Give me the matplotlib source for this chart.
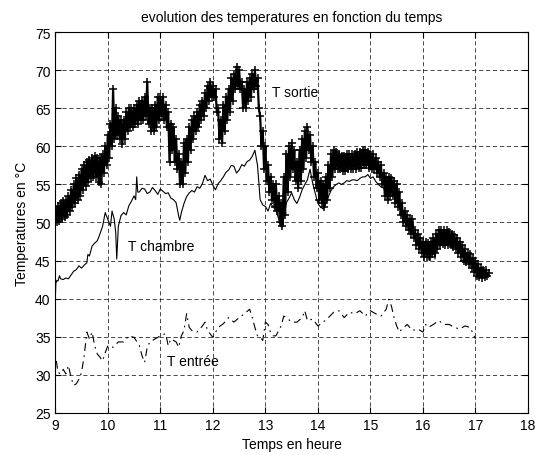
import numpy as np
import matplotlib
matplotlib.use('Agg')
import matplotlib.pyplot as plt

plt.rcParams['font.family'] = ['Liberation Sans', 'DejaVu Sans']
plt.rcParams['font.size'] = 10

# T sortie, one reading every 0.025 h from 9h00 (one row = one hour)
sortie_t0 = 9.0
sortie_dt = 0.025
T_sortie = [
    52.0, 50.0, 52.2, 50.2, 52.5, 50.5, 52.8, 50.7, 53.0, 51.0,
    53.5, 51.5, 54.3, 52.0, 55.0, 52.5, 55.8, 53.0, 56.3, 53.5,
    57.0, 54.3, 57.5, 54.8, 58.0, 55.3, 58.2, 55.8, 58.5, 56.0,
    58.7, 56.0, 58.5, 55.3, 58.5, 55.0, 59.0, 56.5, 60.0, 57.5,

    61.5, 58.5, 63.0, 60.0, 67.5, 61.0, 65.0, 61.5, 64.0, 61.0,
    63.5, 60.3, 63.5, 61.0, 64.5, 62.0, 65.0, 62.5, 65.0, 62.5,
    65.0, 63.0, 65.5, 63.0, 66.0, 63.5, 66.0, 63.5, 66.5, 64.0,
    68.5, 63.0, 65.0, 62.0, 65.0, 62.0, 65.5, 62.5, 66.5, 63.5,

    66.5, 64.0, 66.5, 63.5, 65.5, 62.5, 64.5, 58.0, 63.0, 59.5,
    62.5, 58.0, 61.0, 57.0, 59.0, 55.0, 58.0, 55.0, 60.5, 56.5,
    61.0, 58.0, 62.5, 59.5, 63.5, 61.0, 64.0, 62.0, 64.5, 62.5,
    65.5, 63.5, 66.0, 64.0, 67.0, 65.0, 68.0, 66.0, 68.5, 66.5,

    68.0, 66.5, 67.5, 64.5, 65.0, 61.0, 63.5, 60.5, 65.5, 62.0,
    66.5, 63.5, 67.5, 64.5, 69.0, 66.0, 69.5, 67.5, 70.5, 68.0,
    70.0, 67.5, 68.5, 65.0, 67.5, 65.0, 68.5, 66.0, 69.0, 66.5,
    69.5, 67.5, 70.0, 68.0, 69.0, 65.0, 64.0, 60.0, 62.0, 57.0,

    60.0, 55.5, 57.5, 54.0, 56.0, 53.0, 55.0, 52.0, 55.0, 51.5,
    53.5, 50.0, 52.5, 49.5, 56.0, 51.0, 59.0, 54.0, 60.0, 56.0,
    60.5, 57.0, 59.5, 55.5, 58.0, 54.5, 59.5, 55.5, 61.0, 57.0,
    62.0, 58.5, 62.5, 59.5, 61.5, 58.0, 60.0, 56.0, 58.0, 54.5,

    56.5, 53.0, 55.5, 52.5, 55.0, 52.0, 56.0, 53.0, 57.5, 54.5,
    59.0, 56.0, 59.5, 57.0, 59.3, 57.0, 59.0, 57.0, 58.8, 56.8,
    58.8, 56.8, 59.0, 57.0, 59.0, 57.0, 59.0, 57.0, 59.0, 57.0,
    59.2, 57.2, 59.2, 57.2, 59.5, 57.5, 59.5, 57.5, 59.2, 57.2,

    59.0, 57.0, 59.0, 57.0, 58.5, 56.5, 58.0, 56.0, 57.5, 55.0,
    56.5, 53.5, 56.0, 53.0, 56.0, 53.5, 55.8, 53.5, 55.5, 52.5,
    55.0, 52.0, 54.0, 51.0, 52.5, 50.0, 51.5, 49.5, 51.0, 49.0,
    50.5, 48.5, 50.5, 48.0, 49.0, 47.0, 48.5, 46.5, 48.0, 46.0,

    47.5, 45.5, 47.5, 45.5, 47.3, 45.5, 47.5, 45.8, 48.0, 46.0,
    48.5, 46.5, 49.0, 47.0, 49.0, 47.2, 49.0, 47.0, 49.0, 47.0,
    48.8, 47.0, 48.5, 46.8, 48.3, 46.5, 48.0, 46.0, 47.5, 45.5,
    47.0, 45.0, 46.5, 44.8, 46.0, 44.5, 45.8, 44.0, 45.3, 43.5,

    45.0, 43.0, 44.5, 42.8, 44.0, 42.7, 43.8, 42.8, 43.7, 43.0,
    43.4,
]
t_sortie = sortie_t0 + sortie_dt * np.arange(len(T_sortie))

t_chambre = [
    9.00, 9.01, 9.03, 9.05, 9.08, 9.10, 9.15, 9.20, 9.25, 9.30, 9.35, 9.40,
    9.45, 9.50, 9.55, 9.60, 9.62, 9.65, 9.70, 9.75, 9.80, 9.85, 9.90, 9.95,
    10.00, 10.05, 10.08, 10.12, 10.15, 10.17, 10.20, 10.25, 10.30, 10.35,
    10.40, 10.45, 10.50, 10.53, 10.55, 10.57, 10.60, 10.65, 10.70, 10.75,
    10.80, 10.85, 10.90, 10.95, 11.00, 11.05, 11.10, 11.15, 11.20, 11.25,
    11.30, 11.35, 11.37, 11.40, 11.45, 11.50, 11.55, 11.60, 11.65, 11.70,
    11.75, 11.80, 11.85, 11.90, 11.95, 12.00, 12.05, 12.10, 12.15, 12.20,
    12.25, 12.30, 12.35, 12.40, 12.45, 12.50, 12.55, 12.60, 12.65, 12.70,
    12.75, 12.80, 12.85, 12.90, 12.95, 13.00, 13.05, 13.10, 13.15, 13.20,
    13.25, 13.30, 13.35, 13.40, 13.45, 13.50, 13.55, 13.60, 13.65, 13.70,
    13.75, 13.80, 13.85, 13.90, 13.95, 14.00, 14.05, 14.10, 14.15, 14.20,
    14.25, 14.30, 14.35, 14.40, 14.45, 14.50, 14.55, 14.60, 14.65, 14.70,
    14.75, 14.80, 14.85, 14.90, 14.95, 15.00, 15.05, 15.10, 15.15, 15.20,
    15.25, 15.30, 15.35, 15.40, 15.45, 15.50, 15.55, 15.60, 15.65, 15.70,
    15.75, 15.80, 15.85, 15.90, 15.95, 16.00, 16.05, 16.10, 16.12, 16.15,
    16.20, 16.23, 16.25, 16.30, 16.35, 16.40, 16.45, 16.50, 16.55, 16.60,
    16.65, 16.70, 16.75, 16.80, 16.85, 16.90, 16.95, 17.00, 17.05, 17.10,
    17.15, 17.20,
]
T_chambre = [
    40.0, 42.0, 42.4, 42.3, 43.0, 42.6, 42.5, 42.7, 42.6, 43.1, 43.6, 43.8,
    44.3, 44.0, 44.4, 44.7, 45.8, 45.6, 46.9, 47.3, 47.6, 48.5, 49.5, 51.3,
    50.4, 49.5, 51.5, 50.5, 48.7, 45.2, 49.5, 50.9, 51.3, 51.0,
    52.2, 52.8, 53.5, 53.0, 56.0, 54.0, 54.0, 54.5, 54.4, 53.8,
    54.0, 54.6, 54.2, 53.7, 54.4, 54.1, 53.8, 53.9, 53.2, 53.0,
    52.6, 50.8, 50.3, 51.3, 52.5, 53.4, 53.9, 54.2, 54.0, 54.7,
    54.5, 55.1, 56.2, 55.5, 55.7, 54.9, 54.3, 55.1, 55.5, 56.0,
    56.6, 56.9, 57.5, 57.4, 56.5, 56.9, 57.6, 57.4, 58.0, 58.2,
    58.7, 59.5, 57.5, 53.0, 52.3, 52.1, 51.5, 52.5, 52.0, 51.7,
    50.5, 49.4, 50.5, 52.6, 53.2, 53.9, 53.0, 52.5, 53.3, 54.3,
    55.0, 55.6, 57.0, 55.2, 53.8, 52.5, 52.0, 51.8, 52.5, 53.4,
    54.2, 54.7, 55.0, 55.2, 55.0, 55.2, 55.5, 55.4, 55.6, 55.6,
    55.5, 55.8, 56.0, 56.0, 56.3, 55.8, 56.0, 55.4, 55.0, 54.7,
    54.5, 54.0, 54.3, 54.0, 53.5, 53.0, 52.0, 51.0, 50.5, 49.8,
    49.3, 48.8, 48.0, 47.3, 46.8, 46.3, 46.0, 45.5, 45.0, 46.0,
    46.3, 45.2, 46.5, 47.3, 47.5, 47.5, 47.8, 47.5, 47.3, 47.0,
    46.7, 46.3, 45.8, 45.5, 45.0, 44.7, 44.3, 43.8, 43.4, 43.0,
    42.9, 43.1,
]

t_entree = [
    9.02, 9.05, 9.10, 9.15, 9.20, 9.25, 9.30, 9.35, 9.40, 9.45, 9.50, 9.55,
    9.60, 9.65, 9.70, 9.75, 9.80, 9.85, 9.90, 9.95, 10.00, 10.10, 10.20,
    10.30, 10.40, 10.50, 10.60, 10.65, 10.70, 10.75, 10.80, 10.90, 11.00,
    11.10, 11.15, 11.20, 11.30, 11.35, 11.40, 11.45, 11.50, 11.55, 11.60,
    11.70, 11.80, 11.85, 11.90, 12.00, 12.10, 12.20, 12.30, 12.40, 12.50,
    12.60, 12.70, 12.75, 12.80, 12.85, 12.90, 12.95, 13.00, 13.05, 13.10,
    13.15, 13.20, 13.30, 13.35, 13.40, 13.50, 13.60, 13.70, 13.75, 13.80,
    13.90, 14.00, 14.10, 14.20, 14.30, 14.40, 14.50, 14.60, 14.70, 14.80,
    14.90, 15.00, 15.10, 15.20, 15.30, 15.35, 15.40, 15.45, 15.50, 15.55,
    15.60, 15.70, 15.80, 15.90, 16.00, 16.05, 16.10, 16.20, 16.30, 16.40,
    16.50, 16.60, 16.70, 16.80, 16.90, 17.00,
]
T_entree = [
    31.8, 30.3, 30.1, 30.7, 30.1, 31.2, 29.6, 28.6, 28.8, 29.4, 30.3, 32.5,
    35.6, 34.7, 35.6, 33.8, 32.7, 32.3, 31.8, 32.9, 33.8, 33.6, 34.3,
    34.3, 35.1, 34.9, 33.8, 32.5, 31.6, 33.6, 34.3, 34.7, 35.1,
    35.4, 33.8, 34.7, 34.3, 33.6, 35.1, 35.8, 38.0, 36.2, 35.8,
    35.6, 36.4, 36.9, 35.8, 34.9, 36.2, 36.7, 37.5, 36.9, 37.5,
    38.0, 38.6, 37.5, 36.2, 35.1, 34.9, 34.5, 36.9, 36.6, 35.5,
    35.1, 35.1, 36.4, 37.7, 37.5, 36.9, 36.9, 37.5, 38.4, 37.1,
    37.3, 36.4, 36.9, 37.5, 38.2, 38.4, 37.5, 38.2, 38.0, 38.4,
    37.7, 38.4, 38.0, 37.7, 38.6, 39.9, 39.0, 37.5, 36.4, 35.6,
    36.0, 36.6, 35.8, 36.0, 35.6, 36.6, 36.2, 36.6, 37.1, 36.6,
    36.6, 36.2, 36.0, 36.4, 36.2, 34.7,
]

fig = plt.figure(figsize=(5.35, 4.56), dpi=100)
ax = fig.add_axes([0.1034, 0.0928, 0.8835, 0.8342])

ax.plot(t_sortie, T_sortie, color='k', lw=1.6, marker='+', ms=6, mew=1.1)
ax.plot(t_chambre, T_chambre, color='k', lw=0.8)
ax.plot(t_entree, T_entree, color='k', lw=0.8, ls=(0, (7, 4, 1.5, 4)))

ax.text(13.13, 67.2, 'T sortie', va='center', ha='left')
ax.text(10.38, 46.9, 'T chambre', va='center', ha='left')
ax.text(11.12, 31.8, 'T entrée', va='center', ha='left')

ax.set_xlim(9, 18)
ax.set_ylim(25, 75)
ax.set_xticks(range(9, 19))
ax.set_yticks(range(25, 80, 5))
ax.tick_params(direction='in', top=True, right=True, length=4, width=0.8)
ax.grid(True, color='k', ls=(0, (6, 4)), lw=0.5)
for s in ax.spines.values():
    s.set_linewidth(0.8)

ax.set_title('evolution des temperatures en fonction du temps', fontsize=10, pad=8)
ax.set_xlabel('Temps en heure', labelpad=4)
ax.set_ylabel('Temperatures en °C', labelpad=4)

fig.savefig('out.png', dpi=100)
